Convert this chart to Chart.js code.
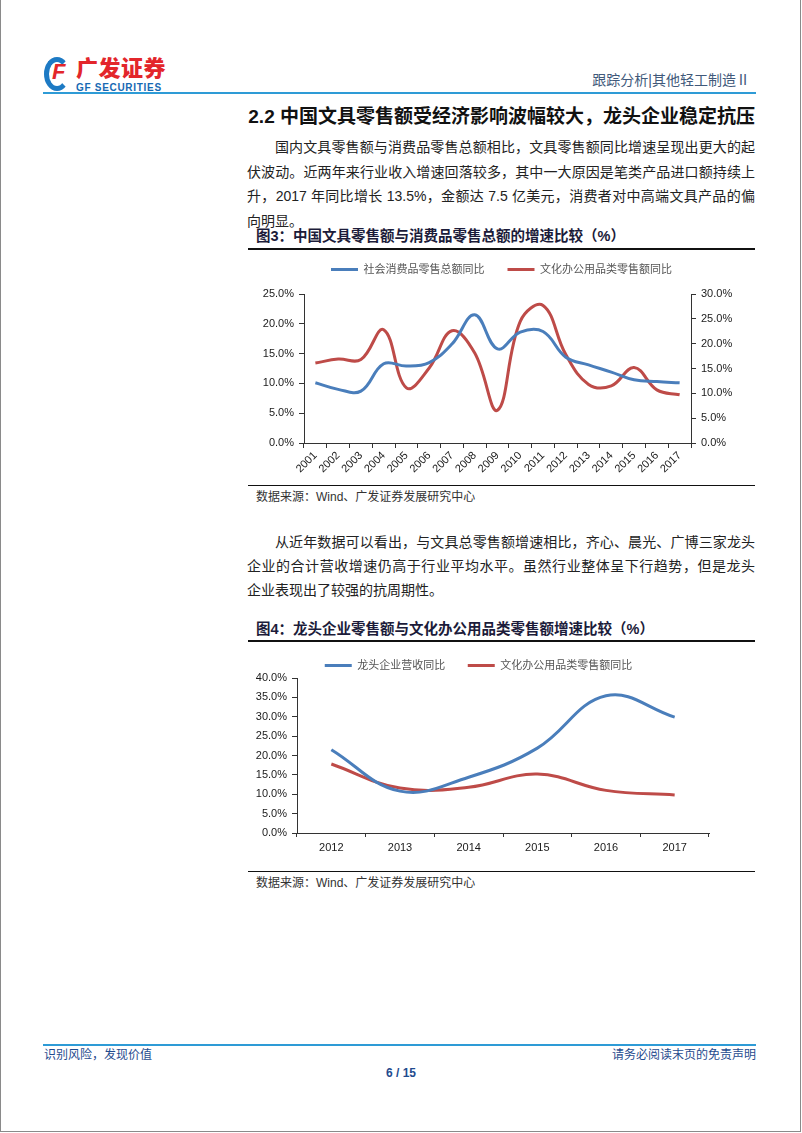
<!DOCTYPE html>
<html lang="zh-CN">
<head>
<meta charset="utf-8">
<title>跟踪分析|其他轻工制造Ⅱ</title>
<script src="https://cdn.jsdelivr.net/npm/chart.js@4.4.1/dist/chart.umd.min.js"></script>
<style>
  html, body { margin: 0; padding: 0; background: #fff; }
  body {
    width: 802px; height: 1133px; position: relative; overflow: hidden;
    font-family: "Liberation Sans", "Noto Sans CJK SC", sans-serif; color: #1a1a1a;
  }
  .frame { position: absolute; left: 0; top: 0; width: 801px; height: 1132px;
    border-left: 1px solid #8a8a8a; border-right: 1px solid #8a8a8a; border-bottom: 1px solid #8a8a8a;
    box-sizing: border-box; pointer-events: none; }
  .abs { position: absolute; white-space: nowrap; }

  /* 页眉 */
  .logo-mark { position: absolute; left: 44px; top: 57px; width: 26px; height: 34px;
    border: 5px solid #1d7ac4; border-right-color: transparent; border-radius: 50%; box-sizing: border-box; }
  .logo-f { position: absolute; left: 52px; top: 59px; font: italic 900 22px/26px "Liberation Sans", sans-serif; color: #e3262b; }
  .logo-cn { left: 76px; top: 56px; font-size: 22px; font-weight: 900; color: #e3262b; letter-spacing: 0.5px; line-height: 26px; }
  .logo-en { left: 76px; top: 82px; font-size: 10px; font-weight: bold; color: #1669b3; letter-spacing: 0.7px; line-height: 11px; }
  .header-right { right: 52px; top: 71px; font-size: 14px; line-height: 18px; color: #41597a; }
  .blue-rule { position: absolute; left: 43px; width: 713px; height: 2px; background: #2e9bd6; }

  /* 正文 */
  .title { right: 47px; top: 105px; font-size: 19px; font-weight: bold; line-height: 24px; color: #111; }
  .line { position: absolute; left: 247px; width: 508px; height: 24px; line-height: 24px; font-size: 14px;
    color: #222; text-align: justify; text-align-last: justify; box-sizing: border-box; overflow: visible; }
  .line.indent { padding-left: 28px; }
  .line.last { text-align-last: left; }
  .caption { left: 256px; font-size: 14.5px; font-weight: bold; line-height: 18px; color: #1c1c3a; }
  .rule { position: absolute; left: 248px; width: 507px; background: #111; }
  .source { left: 256px; font-size: 12px; line-height: 14px; color: #333; }
  .chart-box { position: absolute; left: 248px; width: 507px; }

  /* 页脚 */
  .footer { font-size: 12px; line-height: 16px; color: #1f4b8e; }
</style>
</head>
<body>

<div class="logo-mark"></div>
<div class="abs logo-f">F</div>
<div class="abs logo-cn">广发证券</div>
<div class="abs logo-en">GF SECURITIES</div>
<div class="abs header-right">跟踪分析|其他轻工制造Ⅱ</div>
<div class="blue-rule" style="top:92px"></div>

<div class="abs title">2.2 中国文具零售额受经济影响波幅较大，龙头企业稳定抗压</div>

<div class="line indent" style="top:135px">国内文具零售额与消费品零售总额相比，文具零售额同比增速呈现出更大的起</div>
<div class="line" style="top:160px">伏波动。近两年来行业收入增速回落较多，其中一大原因是笔类产品进口额持续上</div>
<div class="line" style="top:184px">升，2017 年同比增长 13.5%，金额达 7.5 亿美元，消费者对中高端文具产品的偏</div>
<div class="line last" style="top:209px">向明显。</div>

<div class="abs caption" style="top:227px">图3：中国文具零售额与消费品零售总额的增速比较（%）</div>
<div class="rule" style="top:248px; height:2px"></div>
<div class="chart-box" style="top:252px; height:230px"><canvas id="chart1"></canvas></div>
<div class="rule" style="top:485px; height:1px"></div>
<div class="abs source" style="top:490px">数据来源：Wind、广发证券发展研究中心</div>

<div class="line indent" style="top:530px">从近年数据可以看出，与文具总零售额增速相比，齐心、晨光、广博三家龙头</div>
<div class="line" style="top:554px">企业的合计营收增速仍高于行业平均水平。虽然行业整体呈下行趋势，但是龙头</div>
<div class="line last" style="top:578px">企业表现出了较强的抗周期性。</div>

<div class="abs caption" style="top:620px">图4：龙头企业零售额与文化办公用品类零售额增速比较（%）</div>
<div class="rule" style="top:640px; height:2px"></div>
<div class="chart-box" style="top:643px; height:227px"><canvas id="chart2"></canvas></div>
<div class="rule" style="top:871px; height:1px"></div>
<div class="abs source" style="top:876px">数据来源：Wind、广发证券发展研究中心</div>

<div class="blue-rule" style="top:1044px"></div>
<div class="abs footer" style="left:44px; top:1047px">识别风险，发现价值</div>
<div class="abs footer" style="right:46px; top:1047px">请务必阅读末页的免责声明</div>
<div class="abs footer" style="left:0; width:802px; text-align:center; top:1065px; font-weight:bold">6 / 15</div>

<div class="frame"></div>

<script>
/*************  数据  ****************/
// 图3：2001-2017 年增速（%）
const years3 = ['2001', '2002', '2003', '2004', '2005', '2006', '2007', '2008', '2009',
                '2010', '2011', '2012', '2013', '2014', '2015', '2016', '2017']
const retailTotalYoY = [10.1, 9.0, 8.7, 13.3, 12.9, 13.5, 16.6, 21.5, 15.8,
                        18.6, 18.7, 14.4, 13.1, 11.9, 10.6, 10.3, 10.1]
const stationeryYoY3 = [16.1, 16.9, 16.8, 22.8, 11.1, 15.1, 22.6, 18.1, 6.6,
                        24.5, 27.7, 17.8, 11.8, 11.5, 15.2, 10.7, 9.7]
const series3Names = ['社会消费品零售总额同比', '文化办公用品类零售额同比']

// 图4：2012-2017 年增速（%）
const years4 = ['2012', '2013', '2014', '2015', '2016', '2017']
const leaderRevenueYoY = [21.5, 10.8, 14.4, 21.9, 35.4, 29.9]
const stationeryYoY4 = [17.8, 11.6, 11.8, 15.2, 11.0, 9.8]
const series4Names = ['龙头企业营收同比', '文化办公用品类零售额同比']

/*************  样式  ****************/
const BLUE = '#4a7ebb'
const RED = '#be4b48'
const AXIS = '#333333'
const FONT = '"Liberation Sans", "Noto Sans CJK SC", sans-serif'

// 图例高度固定，让绘图区位置与原图一致
const legendHeight = {
  id: 'legendHeight',
  beforeInit(chart, args, opts) {
    const fit = chart.legend.fit
    chart.legend.fit = function () {
      fit.bind(this)()
      this.height = opts.height
    }
  }
}

function pct(v) { return Number(v).toFixed(1) + '%' }

function lineDataset(label, data, color, axis) {
  return {
    label: label, data: data, yAxisID: axis,
    borderColor: color, backgroundColor: color, borderWidth: 3,
    pointRadius: 0, tension: 0.4, fill: false
  }
}

function legendOptions(padding, firstGap) {
  return {
    position: 'top',
    labels: {
      usePointStyle: true, pointStyle: 'line', pointStyleWidth: 27,
      padding: padding, color: '#555',
      font: { family: FONT, size: 11 },
      // 第一个图例项后面多留一点空白
      generateLabels: chart => Chart.defaults.plugins.legend.labels.generateLabels(chart)
        .map((item, i) => { if (i === 0) item.text += firstGap; return item })
    }
  }
}

function yAxis(position, max, width) {
  return {
    position: position, min: 0, max: max,
    ticks: { stepSize: 5, callback: pct, color: '#1a1a1a', padding: 5, font: { family: FONT, size: 11 } },
    grid: { drawOnChartArea: false, drawTicks: true, tickLength: 5, color: AXIS },
    border: { display: true, color: AXIS, width: 1 },
    afterFit: s => { s.width = width }
  }
}

/*************  图3  ****************/
new Chart(document.getElementById('chart1'), {
  type: 'line',
  data: {
    labels: years3,
    datasets: [
      lineDataset(series3Names[0], retailTotalYoY, BLUE, 'y'),
      lineDataset(series3Names[1], stationeryYoY3, RED, 'y1')
    ]
  },
  options: {
    responsive: true, maintainAspectRatio: false, animation: false,
    layout: { padding: 0 },
    plugins: {
      legend: legendOptions(12, '\u3000'),
      legendHeight: { height: 42 },
      tooltip: { enabled: false }
    },
    scales: {
      x: {
        offset: true,
        ticks: { minRotation: 45, maxRotation: 45, autoSkip: false, padding: 1, color: '#1a1a1a',
                 font: { family: FONT, size: 11 } },
        grid: { offset: true, drawOnChartArea: false, drawTicks: true, tickLength: 5, color: AXIS },
        border: { display: true, color: AXIS, width: 1 },
        afterFit: s => { s.height = 39 }
      },
      y: yAxis('left', 25, 56),
      y1: yAxis('right', 30, 64)
    }
  },
  plugins: [legendHeight]
})

/*************  图4  ****************/
new Chart(document.getElementById('chart2'), {
  type: 'line',
  data: {
    labels: years4,
    datasets: [
      lineDataset(series4Names[0], leaderRevenueYoY, BLUE, 'y'),
      lineDataset(series4Names[1], stationeryYoY4, RED, 'y')
    ]
  },
  options: {
    responsive: true, maintainAspectRatio: false, animation: false,
    layout: { padding: { right: 46 } },
    plugins: {
      legend: legendOptions(17, '\u2002'),
      legendHeight: { height: 35 },
      tooltip: { enabled: false }
    },
    scales: {
      x: {
        offset: true,
        ticks: { maxRotation: 0, autoSkip: false, padding: 4, color: '#1a1a1a',
                 font: { family: FONT, size: 11 } },
        grid: { offset: true, drawOnChartArea: false, drawTicks: true, tickLength: 4, color: AXIS },
        border: { display: true, color: AXIS, width: 1 },
        afterFit: s => { s.height = 37 }
      },
      y: yAxis('left', 40, 49)
    }
  },
  plugins: [legendHeight]
})
</script>
</body>
</html>
